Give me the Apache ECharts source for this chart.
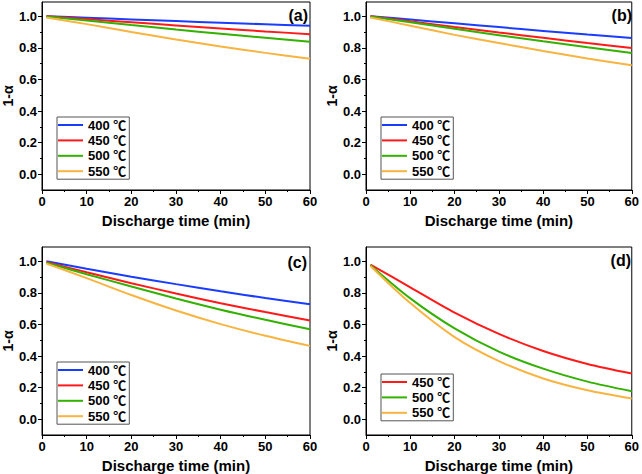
<!DOCTYPE html>
<html>
<head>
<meta charset="utf-8">
<script src="https://cdn.jsdelivr.net/npm/echarts@6/dist/echarts.min.js"></script>
<style>
html,body{margin:0;padding:0;background:#fff;}
#chart{width:642px;height:474px;}
</style>
</head>
<body>
<div id="chart"></div>
<script>
// ---- data ----
const timeMin = [1, 10, 20, 30, 40, 50, 60];
const seriesNames = ['400 ℃', '450 ℃', '500 ℃', '550 ℃'];
const panelLabels = ['(a)', '(b)', '(c)', '(d)'];
const xTickLabels = [0, 10, 20, 30, 40, 50, 60];
const yTickValues = [0, 0.2, 0.4, 0.6, 0.8, 1.0];
const yMinorValues = [0.1, 0.3, 0.5, 0.7, 0.9];

// panel (a)
const a400 = [1.000, 0.991, 0.980, 0.969, 0.959, 0.949, 0.939];
const a450 = [1.000, 0.982, 0.962, 0.942, 0.923, 0.904, 0.886];
const a500 = [0.998, 0.973, 0.944, 0.916, 0.889, 0.863, 0.838];
const a550 = [0.992, 0.950, 0.900, 0.853, 0.809, 0.768, 0.731];
// panel (b)
const b400 = [1.000, 0.979, 0.955, 0.931, 0.907, 0.884, 0.862];
const b450 = [1.000, 0.968, 0.932, 0.897, 0.863, 0.830, 0.799];
const b500 = [0.998, 0.962, 0.920, 0.880, 0.841, 0.803, 0.767];
const b550 = [0.992, 0.940, 0.882, 0.830, 0.780, 0.733, 0.689];
// panel (c)
const c400 = [1.000, 0.952, 0.902, 0.855, 0.810, 0.767, 0.727];
const c450 = [0.995, 0.930, 0.861, 0.796, 0.734, 0.678, 0.625];
const c500 = [0.990, 0.918, 0.840, 0.764, 0.693, 0.629, 0.570];
const c550 = [0.985, 0.893, 0.786, 0.688, 0.602, 0.528, 0.464];
// panel (d)
const d450 = [0.979, 0.835, 0.675, 0.540, 0.432, 0.350, 0.289];
const d500 = [0.975, 0.765, 0.575, 0.428, 0.320, 0.238, 0.177];
const d550 = [0.970, 0.735, 0.520, 0.368, 0.258, 0.183, 0.131];

const panelData = [
  {'400 ℃': a400, '450 ℃': a450, '500 ℃': a500, '550 ℃': a550},
  {'400 ℃': b400, '450 ℃': b450, '500 ℃': b500, '550 ℃': b550},
  {'400 ℃': c400, '450 ℃': c450, '500 ℃': c500, '550 ℃': c550},
  {'450 ℃': d450, '500 ℃': d500, '550 ℃': d550}
];

// ---- styling ----
const colors = {'400 ℃': '#1a3cff', '450 ℃': '#ff1a1a', '500 ℃': '#33b000', '550 ℃': '#f7b440'};
const FONT = "'Liberation Sans', Arial, 'Noto Sans CJK SC', sans-serif";
const grids = [
  {left: 42, top: 2, width: 268, height: 188},
  {left: 366, top: 2, width: 267, height: 188},
  {left: 42, top: 247, width: 268, height: 188},
  {left: 366, top: 247, width: 268, height: 188}
];
const legendPos = [
  {left: 57, top: 117},
  {left: 381, top: 117},
  {left: 57, top: 362},
  {left: 381, top: 374}
];
const labelPos = [
  {x: 308, y: 15},
  {x: 632, y: 15},
  {x: 307, y: 262},
  {x: 631, y: 260}
];
const Y_MIN = -0.1, Y_MAX = 1.09;

const option = {
  backgroundColor: '#fff',
  animation: false,
  grid: grids.map(g => Object.assign({show: true, borderColor: '#000', borderWidth: 1, backgroundColor: 'transparent'}, g)),
  xAxis: grids.map((g, i) => ({
    gridIndex: i, type: 'value', min: 0, max: 60, interval: 10,
    axisLine: {show: true, onZero: false, lineStyle: {color: '#000', width: 1}},
    axisTick: {show: true, inside: false, length: 4, lineStyle: {color: '#000'}},
    minorTick: {show: true, splitNumber: 2, length: 2, lineStyle: {color: '#000'}},
    splitLine: {show: false},
    axisLabel: {color: '#000', fontWeight: 'bold', fontSize: 13, fontFamily: FONT, margin: 5,
      formatter: v => (xTickLabels.indexOf(v) >= 0 ? String(v) : '')},
    name: 'Discharge time (min)', nameLocation: 'middle', nameGap: 23,
    nameTextStyle: {color: '#000', fontWeight: 'bold', fontSize: 15, fontFamily: FONT}
  })),
  yAxis: grids.map((g, i) => ({
    gridIndex: i, type: 'value', min: Y_MIN, max: Y_MAX, position: 'left',
    axisLine: {show: true, onZero: false, lineStyle: {color: '#000', width: 1}},
    axisTick: {show: true, inside: false, length: 4, customValues: yTickValues, lineStyle: {color: '#000'}},
    splitLine: {show: false},
    axisLabel: {customValues: yTickValues, color: '#000', fontWeight: 'bold', fontSize: 13, fontFamily: FONT, margin: 5,
      formatter: v => v.toFixed(1)},
    name: '1-α', nameLocation: 'middle', nameGap: 23,
    nameTextStyle: {color: '#000', fontWeight: 'bold', fontSize: 14, fontFamily: FONT}
  })).concat(grids.map((g, i) => ({
    gridIndex: i, type: 'value', min: Y_MIN, max: Y_MAX, position: 'left', offset: 0,
    axisLine: {show: false},
    axisTick: {show: true, inside: false, length: 2, customValues: yMinorValues, lineStyle: {color: '#000'}},
    splitLine: {show: false},
    axisLabel: {show: false}
  }))),
  legend: legendPos.map((p, i) => ({
    left: p.left, top: p.top, orient: 'vertical',
    data: Object.keys(panelData[i]),
    icon: 'rect', itemWidth: 25, itemHeight: 2, itemGap: 1.4,
    padding: [1, 3, 1, 1],
    borderColor: '#555', borderWidth: 1,
    selectedMode: false,
    textStyle: {color: '#000', fontWeight: 'bold', fontSize: 13, fontFamily: FONT, lineHeight: 14}
  })),
  graphic: labelPos.map((p, i) => ({
    type: 'text', x: p.x, y: p.y,
    style: {text: panelLabels[i], fill: '#000', font: 'bold 16px ' + FONT, textAlign: 'right', textVerticalAlign: 'middle'}
  })),
  series: []
};

panelData.forEach((pd, i) => {
  Object.keys(pd).forEach(name => {
    option.series.push({
      type: 'line', name: name, xAxisIndex: i, yAxisIndex: i,
      data: timeMin.map((t, k) => [t, pd[name][k]]),
      smooth: 0.3, symbol: 'none',
      lineStyle: {color: colors[name], width: 2},
      itemStyle: {color: colors[name]}
    });
  });
});

const chart = echarts.init(document.getElementById('chart'), null, {renderer: 'svg'});
chart.setOption(option);
</script>
</body>
</html>
